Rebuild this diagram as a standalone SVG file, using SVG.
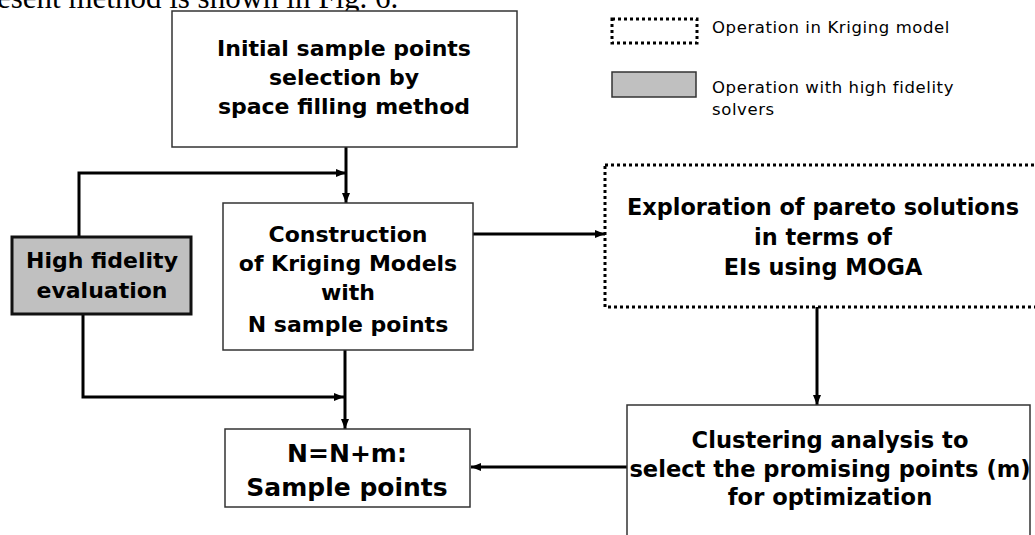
<svg xmlns="http://www.w3.org/2000/svg" width="1035" height="535" viewBox="0 0 1035 535">
<style>
.box{fill:#fff;stroke:#333;stroke-width:1.5}
.gray{fill:#c0c0c0;stroke:#111;stroke-width:3}
.dot{fill:#fff;stroke:#000;stroke-width:3;stroke-dasharray:3 3}
.t{font-family:"DejaVu Sans",Verdana,sans-serif;font-weight:bold;font-size:22px;fill:#000;text-anchor:middle}
.lg{font-family:"DejaVu Sans",Verdana,sans-serif;font-size:16.5px;letter-spacing:0.6px;fill:#000}
.c{fill:none;stroke:#000;stroke-width:3}
</style>
<defs>
<marker id="ah" markerWidth="10" markerHeight="8" refX="10" refY="4" orient="auto" markerUnits="userSpaceOnUse">
<path d="M0,0 L10,4 L0,8 Z" fill="#000"/>
</marker>
</defs>
<rect width="1035" height="535" fill="#fff"/>
<text x="-3" y="8" style="font-family:'Liberation Serif','Times New Roman',serif;font-size:31px;fill:#000">esent method is shown in Fig. 6.</text>
<g id="legend">
<rect class="dot" x="612" y="19" width="85" height="24"/>
<text class="lg" x="712" y="33">Operation in Kriging model</text>
<rect x="612" y="72" width="84" height="25" fill="#c0c0c0" stroke="#333" stroke-width="1.5"/>
<text class="lg" x="712" y="93">Operation with high fidelity</text>
<text class="lg" x="712" y="115">solvers</text>
</g>
<g id="connectors">
<path class="c" d="M346,147 L346,203" marker-end="url(#ah)"/>
<path class="c" d="M79,237 L79,173 L346,173" marker-end="url(#ah)"/>
<path class="c" d="M473,234 L605,234" marker-end="url(#ah)"/>
<path class="c" d="M817,307 L817,405" marker-end="url(#ah)"/>
<path class="c" d="M627,467 L471,467" marker-end="url(#ah)"/>
<path class="c" d="M345,350 L345,429" marker-end="url(#ah)"/>
<path class="c" d="M83,314 L83,397 L344,397" marker-end="url(#ah)"/>
</g>
<g id="initial">
<rect class="box" x="172" y="11" width="345" height="136"/>
<text class="t" x="344" y="56">Initial sample points</text>
<text class="t" x="344" y="85">selection by</text>
<text class="t" x="344" y="114">space filling method</text>
</g>
<g id="construction">
<rect class="box" x="223" y="203" width="250" height="147"/>
<text class="t" x="348" y="242">Construction</text>
<text class="t" x="348" y="271">of Kriging Models</text>
<text class="t" x="348" y="300">with</text>
<text class="t" x="348" y="332">N sample points</text>
</g>
<g id="highfidelity">
<rect class="gray" x="12" y="237" width="179" height="77"/>
<text class="t" x="102" y="268">High fidelity</text>
<text class="t" x="102" y="298">evaluation</text>
</g>
<g id="exploration">
<rect class="dot" x="605" y="165" width="445" height="142"/>
<text class="t" x="823" y="215" style="font-size:22.4px">Exploration of pareto solutions</text>
<text class="t" x="823" y="245" style="font-size:22.4px">in terms of</text>
<text class="t" x="823" y="275" style="font-size:22.4px">EIs using MOGA</text>
</g>
<g id="nnm">
<rect class="box" x="225" y="429" width="245" height="78"/>
<text class="t" x="347" y="462" style="font-size:25px">N=N+m:</text>
<text class="t" x="347" y="496" style="font-size:25px">Sample points</text>
</g>
<g id="clustering">
<rect class="box" x="627" y="405" width="403" height="145"/>
<text class="t" x="830" y="448" style="font-size:22.6px">Clustering analysis to</text>
<text class="t" x="830" y="477" style="font-size:22.6px">select the promising points (m)</text>
<text class="t" x="830" y="505" style="font-size:22.6px">for optimization</text>
</g>
</svg>
